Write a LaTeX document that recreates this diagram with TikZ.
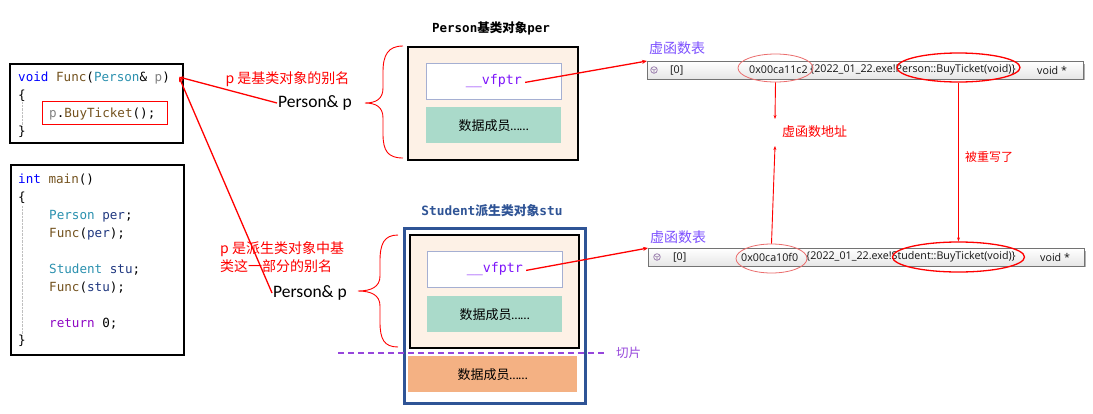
\documentclass[tikz,border=0pt]{standalone}
\usepackage{fontspec}
\usetikzlibrary{arrows.meta,shapes.geometric}
\newfontfamily\cjk{Noto Sans CJK SC}
\newfontfamily\codef{DejaVu Sans Mono}
\newfontfamily\uif{Open Sans}
\newfontfamily\calf{Carlito}
\definecolor{kw}{RGB}{0,0,255}
\definecolor{fn}{RGB}{116,83,31}
\definecolor{ty}{RGB}{43,145,175}
\definecolor{pa}{RGB}{128,128,128}
\definecolor{lv}{RGB}{31,55,127}
\definecolor{rt}{RGB}{143,8,196}
\definecolor{vio}{RGB}{125,20,250}
\definecolor{tblv}{RGB}{125,80,255}
\definecolor{linenc}{RGB}{253,241,230}
\definecolor{mint}{RGB}{170,218,202}
\definecolor{orng}{RGB}{244,177,131}
\definecolor{stub}{RGB}{47,84,150}
\definecolor{slicec}{RGB}{150,70,220}
\definecolor{vfb}{RGB}{165,175,210}
\definecolor{ared}{RGB}{255,0,0}
\definecolor{lred}{RGB}{235,110,110}
\definecolor{rowtxt}{RGB}{20,20,20}
\definecolor{iconc}{RGB}{150,120,170}
\newcommand\fsz[1]{\fontsize{#1}{#1}\selectfont}
\begin{document}
\begin{tikzpicture}[x=1pt,y=-1pt,
  code/.style={anchor=base west,inner sep=0pt,font=\codef\fsz{12.6}},
  codebox/.style={draw=black,line width=1.8pt,anchor=north west,inner sep=0pt},
  objbox/.style={draw=black,line width=1.8pt,fill=linenc,anchor=north west,inner sep=0pt},
  vfbox/.style={draw=vfb,line width=0.8pt,fill=white,anchor=north west,inner sep=0pt,minimum width=135pt,minimum height=36pt},
  databox/.style={fill=mint,anchor=north west,inner sep=0pt,minimum width=135pt,minimum height=36pt},
  vftext/.style={text=vio,font=\codef\fsz{13.3},inner sep=0pt},
  datatext/.style={font=\fsz{13},inner sep=0pt},
  redlab/.style={text=ared,font=\cjk\fsz{14},inner sep=0pt},
  reflab/.style={font=\calf\fsz{17.5},inner sep=1pt},
  redarrow/.style={draw=ared,line width=1.3pt,-{Stealth[length=5pt,width=4pt]}},
  thinarrow/.style={draw=ared,line width=0.9pt,-{Stealth[length=4pt,width=3pt]}},
  rowbox/.style={draw=black!55,line width=0.8pt,top color=white,bottom color=black!10,anchor=north west,inner sep=0pt,minimum width=436pt,minimum height=18pt},
  rowt/.style={anchor=west,inner sep=0pt,text=rowtxt,font=\uif\fsz{10.7}},
  tbllab/.style={text=tblv,font=\cjk\fsz{14},inner sep=0pt},
  addrell/.style={draw=lred,line width=0.8pt,ellipse,inner sep=0pt},
  funcell/.style={draw=ared,line width=1.3pt,ellipse,inner sep=0pt},
  brace/.style={draw=ared,line width=0.9pt}
]
\useasboundingbox (0,0) rectangle (1093,413);
\fill[white] (0,0) rectangle (1093,413);

% ---------------- code boxes ----------------
\node[codebox,minimum width=173pt,minimum height=79pt] (fbox) at (9,63) {};
\node[codebox,minimum width=173pt,minimum height=190pt] (mbox) at (10,164) {};
\draw[black!25,densely dotted] (22,102) -- (22,126);
\draw[black!25,densely dotted] (22,206) -- (22,335);

\node[code] (c1) at (18,81) {{\color{kw}void} {\color{fn}Func}({\color{ty}Person}\& {\color{pa}p})};
\node[code] (c2) at (18,99) {\{};
\node[code] (c3) at (49,117) {{\color{pa}p}.{\color{fn}BuyTicket}();};
\node[code] (c4) at (18,135) {\}};
\draw[ared,line width=0.9pt] (42,101) rectangle (167,124);

\node[code] (m1) at (18,183) {{\color{kw}int} {\color{fn}main}()};
\node[code] (m2) at (18,201) {\{};
\node[code] (m3) at (49,219) {{\color{ty}Person} {\color{lv}per};};
\node[code] (m4) at (49,237) {{\color{fn}Func}({\color{lv}per});};
\node[code] (m5) at (49,273) {{\color{ty}Student} {\color{lv}stu};};
\node[code] (m6) at (49,291) {{\color{fn}Func}({\color{lv}stu});};
\node[code] (m7) at (49,327) {{\color{rt}return} 0;};
\node[code] (m8) at (18,344) {\}};

\coordinate (fparam) at (179,77);

% ---------------- labels & reference lines ----------------
\node[redlab] (lab1) at (287.5,79) {p 是基类对象的别名};
\node[reflab] (pp1) at (315,103) {Person\& p};
\node[redlab,anchor=north west,align=left,font=\cjk\fontsize{14}{18}\selectfont] (lab2) at (220,241) {p 是派生类对象中基\\类这一部分的别名};
\node[reflab] (pp2) at (310,293) {Person\& p};
\draw[redarrow] (pp1.west) -- (fparam);
\draw[redarrow] (pp2.west) -- (fparam);

% braces
\draw[brace] (403,46) .. controls (388,46) and (383,55) .. (383,72) -- (383,88)
  .. controls (383,99) and (376,103) .. (365,103)
  .. controls (376,103) and (383,107) .. (383,118) -- (383,134)
  .. controls (383,151) and (388,158) .. (403,158);
\draw[brace] (398,235) .. controls (384,235) and (380,244) .. (380,261) -- (380,276)
  .. controls (380,287) and (371,291) .. (358,291)
  .. controls (371,291) and (380,295) .. (380,306) -- (380,322)
  .. controls (380,339) and (384,347) .. (398,347);

% ---------------- Person object ----------------
\node[font=\fsz{12.5}] (pertitle) at (491,28) {{\codef\bfseries Person}{\cjk\bfseries 基类对象}{\codef\bfseries per}};
\node[objbox,minimum width=170pt,minimum height=113pt] (perbox) at (407,46) {};
\node[vfbox] (pvf) at (426,63) {};
\node[vftext] (pvft) at (pvf.center) {\_\_vfptr};
\node[databox] (pdata) at (426,107) {};
\node[datatext] (pdatat) at (pdata.center) {{\cjk 数据成员}{\calf ……}};

% ---------------- Student object ----------------
\node[font=\fsz{12.8},text=stub] (stutitle) at (492,211) {{\codef\bfseries Student}{\cjk\bfseries 派生类对象}{\codef\bfseries stu}};
\node[draw=stub,line width=3pt,fill=white,anchor=north west,inner sep=0pt,minimum width=181pt,minimum height=175pt] (stubox) at (403,227) {};
\node[objbox,minimum width=169pt,minimum height=113pt] (sbase) at (409,234) {};
\node[vfbox] (svf) at (427,251) {};
\node[vftext] (svft) at (svf.center) {\_\_vfptr};
\node[databox] (sdata) at (427,296) {};
\node[datatext] (sdatat) at (sdata.center) {{\cjk 数据成员}{\calf ……}};
\node[fill=orng,anchor=north west,inner sep=0pt,minimum width=169pt,minimum height=36pt] (sown) at (408,356) {};
\node[datatext] (sownt) at (sown.center) {{\cjk 数据成员}{\calf ……}};

% slice line
\coordinate (slA) at (338,353);
\coordinate (slB) at (605,353);
\node[text=slicec,font=\cjk\fsz{12.5},inner sep=0pt,anchor=west] (slice) at (616,353) {切片};
\draw[slicec,line width=1.1pt,dash pattern=on 6pt off 4pt] (slA) -- (slB);

% ---------------- virtual tables ----------------
\node[tbllab,anchor=west] (vt1) at (649,48) {虚函数表};
\fill[black!30] (650,64) rectangle (1085,80);
\node[rowbox] (row1) at (647,61) {};
\node[rowt] (r1i) at (670,70) {[0]};
\node[rowt] (r1a) at (749,70) {0x00ca11c2};
\node[rowt] (r1f) at (810,70) {\{2022\_01\_22.exe!Person::BuyTicket(void)\}};
\node[rowt] (r1v) at (1037,70) {void *};
\draw[iconc,line width=0.7pt] (654,70) circle (3.3pt);
\draw[iconc,line width=0.6pt] (651,68.5) -- (654,70) -- (657,68.5) (654,70) -- (654,73.3);

\node[tbllab,anchor=west] (vt2) at (650,237) {虚函数表};
\fill[black!30] (651,251) rectangle (1086,267);
\node[rowbox] (row2) at (648,248) {};
\node[rowt] (r2i) at (673,257) {[0]};
\node[rowt] (r2a) at (741,257) {0x00ca10f0};
\node[rowt] (r2f) at (806,257) {\{2022\_01\_22.exe!Student::BuyTicket(void)\}};
\node[rowt] (r2v) at (1040,257) {void *};
\draw[iconc,line width=0.7pt] (657,257) circle (3.3pt);
\draw[iconc,line width=0.6pt] (654,255.5) -- (657,257) -- (660,255.5) (657,257) -- (657,260.3);

% ellipses
\node[addrell,minimum width=75pt,minimum height=28pt] (e1) at (775.5,68) {};
\node[funcell,minimum width=123pt,minimum height=29pt] (e2) at (958.5,67.5) {};
\node[addrell,minimum width=71pt,minimum height=29pt] (e3) at (771.5,258.5) {};
\node[funcell,minimum width=132pt,minimum height=30pt] (e4) at (958.5,257) {};

% vfptr arrows
\draw[redarrow] (pvft.east) ++(3,1) -- (row1.north west);
\draw[redarrow] (svft.east) ++(3,1) -- (row2.north west);

% address arrows
\node[text=ared,font=\cjk\fsz{13},inner sep=0pt,anchor=west] (addrlab) at (782,132) {虚函数地址};
\coordinate (adown) at (775,119);
\coordinate (aup) at (775,146);
\draw[thinarrow] (e1.south) -- (adown);
\draw[thinarrow] (e3.north) -- (aup);

% overwrite arrow
\node[text=ared,font=\cjk\fsz{12},inner sep=0pt,anchor=west] (owlab) at (965,157) {被重写了};
\draw[thinarrow] (e2.south) -- (e4.north);
\end{tikzpicture}
\end{document}
